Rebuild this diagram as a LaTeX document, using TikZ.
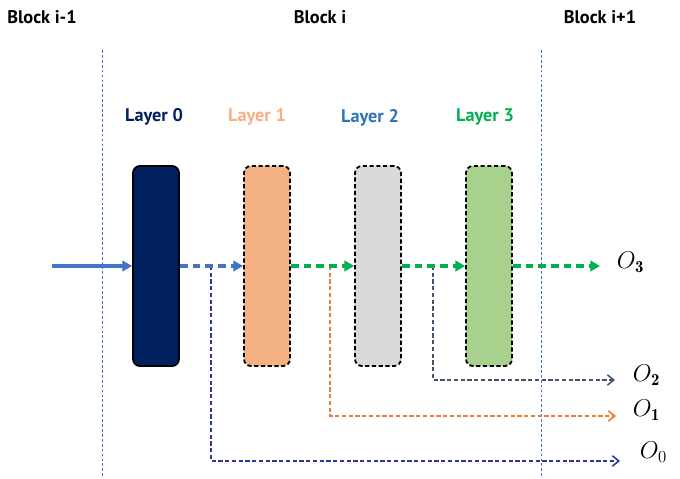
\documentclass[tikz,border=0pt]{standalone}
\usepackage{fontspec}
\setsansfont{PT Sans}
\usetikzlibrary{arrows.meta,positioning}
\definecolor{navy}{HTML}{002060}
\definecolor{peach}{HTML}{F4B183}
\definecolor{greybox}{HTML}{D9D9D9}
\definecolor{greenbox}{HTML}{A9D18E}
\definecolor{midblue}{HTML}{2E75B6}
\definecolor{brightgreen}{HTML}{00B050}
\definecolor{inblue}{HTML}{4472C4}
\definecolor{outorange}{HTML}{ED7D31}
\definecolor{slate}{HTML}{44546A}
\definecolor{indigo}{HTML}{2F3699}
\tikzset{
  layerbox/.style={draw=black,line width=1.3pt,rounded corners=5pt,
    minimum width=1.15cm,minimum height=5cm,inner sep=0pt},
  dashbox/.style={layerbox,dash pattern=on 3pt off 1.8pt},
  title/.style={font=\sffamily\bfseries\fontsize{13}{15}\selectfont},
  layertitle/.style={font=\sffamily\bfseries\fontsize{13}{15}\selectfont},
  divider/.style={inblue,line width=0.6pt,dash pattern=on 2pt off 1.5pt},
  mainflow/.style={line width=2.3pt,-{Triangle[length=2.4mm,width=2.6mm]}},
  skipflow/.style={mainflow,dash pattern=on 5.5pt off 3.5pt},
  exitflow/.style={line width=1.1pt,dash pattern=on 3pt off 1.8pt,
    -{Straight Barb[length=1.6mm,width=2.6mm]}},
  outlabel/.style={font=\fontsize{17}{19}\selectfont,anchor=west}
}
\begin{document}
\begin{tikzpicture}[x=0.025cm,y=-0.025cm]
  \useasboundingbox (0,0) rectangle (680,479);
  % block titles and borders
  \node[title] (prev) at (42,17) {Block i-1};
  \node[title] (cur) at (320,17) {Block i};
  \node[title] (next) at (600,17) {Block i+1};
  \coordinate (d1top) at (102,50);
  \coordinate (d1bot) at (102,476);
  \coordinate (d2top) at (541,50);
  \coordinate (d2bot) at (541,476);
  \draw[divider] (d1top) -- (d1bot);
  \draw[divider] (d2top) -- (d2bot);
  % layers
  \node[layerbox,fill=navy] (l0) at (156,266) {};
  \node[dashbox,fill=peach] (l1) at (267,266) {};
  \node[dashbox,fill=greybox] (l2) at (378,266) {};
  \node[dashbox,fill=greenbox] (l3) at (489,266) {};
  \node[layertitle,text=navy] (t0) at (154,117) {Layer 0};
  \node[layertitle,text=peach] (t1) at (257,117) {Layer 1};
  \node[layertitle,text=midblue] (t2) at (370,118) {Layer 2};
  \node[layertitle,text=brightgreen] (t3) at (485,117) {Layer 3};
  % branch points and ends
  \coordinate (in) at (52,266);
  \coordinate (b0) at (211,266);
  \coordinate (b1) at (330,266);
  \coordinate (b2) at (433,266);
  \coordinate (e3) at (600,266);
  \coordinate (e2) at (615,380);
  \coordinate (e1) at (616,416);
  \coordinate (e0) at (620,461);
  % exits
  \draw[exitflow,indigo] (b0) |- (e0);
  \draw[exitflow,outorange] (b1) |- (e1);
  \draw[exitflow,slate] (b2) |- (e2);
  % main path
  \draw[mainflow,inblue] (in) -- (l0.west);
  \draw[skipflow,inblue] (l0.east) -- (l1.west);
  \draw[skipflow,brightgreen] (l1.east) -- (l2.west);
  \draw[skipflow,brightgreen] (l2.east) -- (l3.west);
  \draw[skipflow,brightgreen] (l3.east) -- (e3);
  % outputs
  \node[outlabel] (o3) at (612,262) {$O_{\mathbf{3}}$};
  \node[outlabel] (o2) at (628,375) {$O_{\mathbf{2}}$};
  \node[outlabel] (o1) at (628,410) {$O_{\mathbf{1}}$};
  \node[outlabel] (o0) at (635,452) {$O_0$};
\end{tikzpicture}
\end{document}
